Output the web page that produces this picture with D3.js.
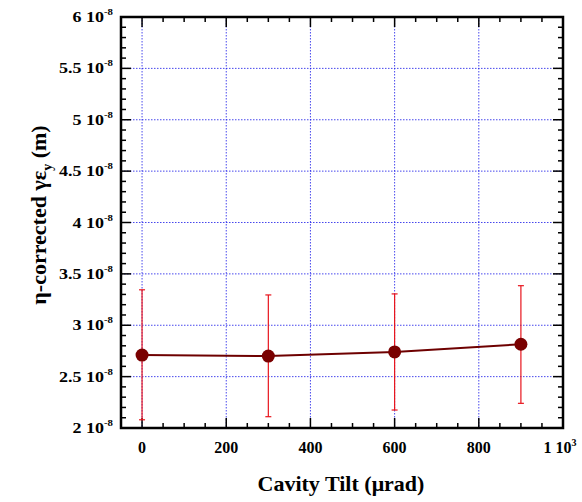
<!DOCTYPE html>
<html>
<head>
<meta charset="utf-8">
<script src="https://d3js.org/d3.v7.min.js"></script>
<style>
  body { margin: 0; background: #fff; }
  text { font-family: "Liberation Serif", "Times New Roman", serif; font-weight: bold; }
</style>
</head>
<body>
<div id="chart"></div>
<script>
// data
const tilt = [0, 300, 600, 900];
const emit = [2.71e-8, 2.70e-8, 2.74e-8, 2.815e-8];
const errLo = [2.08e-8, 2.11e-8, 2.175e-8, 2.24e-8];
const errHi = [3.345e-8, 3.295e-8, 3.305e-8, 3.385e-8];
const xTicks = [0, 200, 400, 600, 800, 1000];
const yTicks = [2e-8, 2.5e-8, 3e-8, 3.5e-8, 4e-8, 4.5e-8, 5e-8, 5.5e-8, 6e-8];
const yTickLabels = ['2', '2.5', '3', '3.5', '4', '4.5', '5', '5.5', '6'];

const W = 582, H = 502;
const m = { left: 121, right: 19, top: 17, bottom: 74 };
const iw = W - m.left - m.right, ih = H - m.top - m.bottom;

const svg = d3.select('#chart').append('svg')
  .attr('width', W).attr('height', H);
const g = svg.append('g').attr('transform', `translate(${m.left},${m.top})`);

const x = d3.scaleLinear().domain([-50, 1000]).range([0, iw]);
const y = d3.scaleLinear().domain([2e-8, 6e-8]).range([ih, 0]);

// grid
g.selectAll('.gx').data(xTicks.filter(d => d < 1000)).enter().append('line')
  .attr('x1', d => x(d)).attr('x2', d => x(d)).attr('y1', 0).attr('y2', ih)
  .attr('stroke', '#1818e8').attr('stroke-width', 0.8).attr('stroke-dasharray', '1.5,1.5');
g.selectAll('.gy').data(yTicks.slice(1, -1)).enter().append('line')
  .attr('x1', 0).attr('x2', iw).attr('y1', d => y(d)).attr('y2', d => y(d))
  .attr('stroke', '#1818e8').attr('stroke-width', 0.8).attr('stroke-dasharray', '1.5,1.5');

// ticks (all four sides)
const xMinor = d3.range(0, 1000, 50).filter(d => d % 200 !== 0);
function ticksX(vals, len) {
  vals.forEach(v => {
    g.append('line').attr('x1', x(v)).attr('x2', x(v)).attr('y1', ih).attr('y2', ih - len)
      .attr('stroke', '#000').attr('stroke-width', 1.5);
    g.append('line').attr('x1', x(v)).attr('x2', x(v)).attr('y1', 0).attr('y2', len)
      .attr('stroke', '#000').attr('stroke-width', 1.5);
  });
}
function ticksY(vals, len) {
  vals.forEach(v => {
    g.append('line').attr('x1', 0).attr('x2', len).attr('y1', y(v)).attr('y2', y(v))
      .attr('stroke', '#000').attr('stroke-width', 1.5);
    g.append('line').attr('x1', iw).attr('x2', iw - len).attr('y1', y(v)).attr('y2', y(v))
      .attr('stroke', '#000').attr('stroke-width', 1.5);
  });
}
ticksX(xTicks, 10);
ticksX(xMinor, 5);
ticksY(yTicks, 10);
ticksY(d3.range(20, 60).filter(d => d % 5 !== 0).map(d => d * 1e-9), 5);

// frame
g.append('rect').attr('width', iw).attr('height', ih)
  .attr('fill', 'none').attr('stroke', '#000').attr('stroke-width', 2.5);

// y tick labels (a bit wide, like the original)
const yl = g.selectAll('.yl').data(yTicks).enter().append('text')
  .attr('transform', d => `translate(-8,${y(d) + 5}) scale(1.2,1)`)
  .attr('text-anchor', 'end').attr('font-size', 15);
yl.append('tspan').text((d, i) => yTickLabels[i] + ' 10');
yl.append('tspan').attr('dy', -7).attr('font-size', 9).text('-8');

// x tick labels
const xl = g.selectAll('.xl').data(xTicks).enter().append('text')
  .attr('x', d => d === 1000 ? x(d) - 3 : x(d)).attr('y', ih + 25)
  .attr('text-anchor', 'middle').attr('font-size', 16);
xl.append('tspan').text(d => d === 1000 ? '1 10' : d);
xl.filter(d => d === 1000).append('tspan').attr('dy', -7).attr('font-size', 10).text('3');

// error bars
tilt.forEach((t, i) => {
  const cx = x(t);
  g.append('line').attr('x1', cx).attr('x2', cx).attr('y1', y(errLo[i])).attr('y2', y(errHi[i]))
    .attr('stroke', '#e8141c').attr('stroke-width', 1.2);
  [errLo[i], errHi[i]].forEach(v => {
    g.append('line').attr('x1', cx - 3).attr('x2', cx + 3).attr('y1', y(v)).attr('y2', y(v))
      .attr('stroke', '#e8141c').attr('stroke-width', 1.2);
  });
});

// line + points
g.append('path').datum(tilt.map((t, i) => [t, emit[i]]))
  .attr('d', d3.line().x(d => x(d[0])).y(d => y(d[1])))
  .attr('fill', 'none').attr('stroke', '#6e0000').attr('stroke-width', 2);
g.selectAll('.pt').data(tilt).enter().append('circle')
  .attr('cx', d => x(d)).attr('cy', (d, i) => y(emit[i])).attr('r', 6.5)
  .attr('fill', '#7a0000');

// axis titles
svg.append('text').attr('x', 341).attr('y', 491)
  .attr('text-anchor', 'middle').attr('font-size', 22).text('Cavity Tilt (\u03bcrad)');
const yt = svg.append('text').attr('transform', 'translate(46,215) rotate(-90)')
  .attr('text-anchor', 'middle').attr('font-size', 22);
yt.append('tspan').text('\u03b7-corrected \u03b3\u03b5');
yt.append('tspan').attr('dy', 6).attr('font-size', 14).text('y');
yt.append('tspan').attr('dy', -6).text('  (m)');
</script>
</body>
</html>
